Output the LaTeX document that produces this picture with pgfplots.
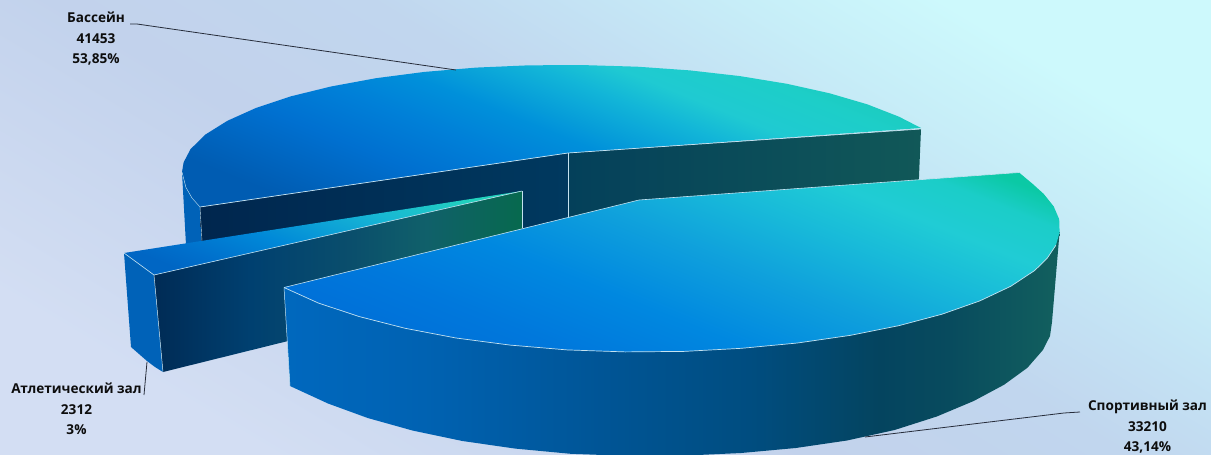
\documentclass[border=0pt]{standalone}
\usepackage{pgfplots}
\usepackage{fontspec}
\setmainfont{Open Sans}
\pgfplotsset{compat=1.18}

\definecolor{edge}{HTML}{C4E2F0}
\definecolor{leader}{HTML}{262C3A}

% background
\definecolor{g0}{HTML}{D3DEF3}\definecolor{g1}{HTML}{C2D2EC}\definecolor{g2}{HTML}{C1D6EE}
\definecolor{g3}{HTML}{C3E0F3}\definecolor{g4}{HTML}{C7EEF8}\definecolor{g5}{HTML}{CDF9FC}
\pgfdeclarehorizontalshading{bgshade}{100bp}{
  color(0bp)=(g0);color(25bp)=(g0);color(44bp)=(g1);color(55bp)=(g2);
  color(60.75bp)=(g3);color(68bp)=(g4);color(75bp)=(g5);color(100bp)=(g5)}

\definecolor{a0}{HTML}{005CB2}\definecolor{a1}{HTML}{0060B8}\definecolor{a2}{HTML}{0070D0}
\definecolor{a3}{HTML}{0080D8}\definecolor{a4}{HTML}{0090DA}\definecolor{a5}{HTML}{12B5D8}
\definecolor{a6}{HTML}{1FCAD2}\definecolor{a7}{HTML}{1DCEC8}\definecolor{a8}{HTML}{18C8B0}
\pgfdeclarehorizontalshading{basstop}{100bp}{
  color(0bp)=(a0);color(25bp)=(a0);color(27.5bp)=(a1);color(36.8bp)=(a2);color(44.4bp)=(a3);
  color(50.6bp)=(a4);color(59.3bp)=(a5);color(64bp)=(a6);color(71bp)=(a7);color(80bp)=(a8);color(100bp)=(a8)}

\definecolor{s0}{HTML}{0070D8}\definecolor{s1}{HTML}{0078DC}\definecolor{s2}{HTML}{0088E0}
\definecolor{s3}{HTML}{0FA0DC}\definecolor{s4}{HTML}{18BAD9}\definecolor{s5}{HTML}{20CCD5}
\definecolor{s6}{HTML}{1BCDC8}\definecolor{s7}{HTML}{0BC9A5}
\pgfdeclarehorizontalshading{sporttop}{100bp}{
  color(0bp)=(s0);color(25bp)=(s0);color(32.8bp)=(s1);color(42.7bp)=(s2);color(53bp)=(s3);
  color(62bp)=(s4);color(69bp)=(s5);color(75bp)=(s6);color(79bp)=(s7);color(100bp)=(s7)}

\definecolor{t0}{HTML}{0066C4}\definecolor{t1}{HTML}{0070CC}\definecolor{t2}{HTML}{0088D8}
\definecolor{t3}{HTML}{18B8D4}\definecolor{t4}{HTML}{22D2BC}
\pgfdeclarehorizontalshading{atltop}{100bp}{
  color(0bp)=(t0);color(25bp)=(t0);color(31.2bp)=(t1);color(42.5bp)=(t2);color(61bp)=(t3);
  color(75bp)=(t4);color(100bp)=(t4)}

\definecolor{w0}{HTML}{0068BE}\definecolor{w1}{HTML}{0062B2}\definecolor{w2}{HTML}{005596}
\definecolor{w3}{HTML}{004D80}\definecolor{w4}{HTML}{04445F}\definecolor{w5}{HTML}{084B5E}
\definecolor{w6}{HTML}{115E5E}
\pgfdeclarehorizontalshading{sportside}{100bp}{
  color(0bp)=(w0);color(25bp)=(w0);color(34bp)=(w1);color(45.4bp)=(w2);color(55bp)=(w3);
  color(63.4bp)=(w4);color(67.9bp)=(w5);color(74.4bp)=(w6);color(100bp)=(w6)}

\definecolor{v0}{HTML}{002B55}\definecolor{v1}{HTML}{004070}\definecolor{v2}{HTML}{0A4E6C}
\definecolor{v3}{HTML}{10606A}\definecolor{v4}{HTML}{07694E}
\pgfdeclarehorizontalshading{atlwall}{100bp}{
  color(0bp)=(v0);color(25bp)=(v0);color(38bp)=(v1);color(51.6bp)=(v2);color(62bp)=(v3);
  color(75bp)=(v4);color(100bp)=(v4)}

\definecolor{b0}{HTML}{00264E}\definecolor{b1}{HTML}{00395F}
\definecolor{b2}{HTML}{04405A}\definecolor{b3}{HTML}{115858}
\definecolor{solidblue}{HTML}{0062B8}

\begin{document}
\begin{tikzpicture}
\useasboundingbox (0,0) rectangle (1211pt,455pt);
\begin{axis}[
    scale only axis,
    width=1211pt, height=455pt,
    xmin=0, xmax=1211, ymin=0, ymax=455,
    y dir=reverse,
    hide axis,
    no markers,
]
% background
\addplot[shade, shading=bgshade, shading angle=59, draw=none] coordinates {(0,0) (1211,0) (1211,455) (0,455)};

% Бассейн
\addplot[fill=solidblue, draw=none] coordinates {(182,172) (186,187) (201,206) (202,245) (186,245)};
\addplot[left color=b0, right color=b1, draw=none] coordinates {(200,207) (568,153) (568,260) (202,260)};
\addplot[left color=b2, right color=b3, draw=none] coordinates {(568,153) (921,129) (918,200) (568,240)};
\addplot[shade, shading=basstop, shading angle=68, draw=none] coordinates {
  (921,128) (899,116.7) (867.2,104.3) (829.6,93.3) (786.9,83.8) (740,76.1) (689.9,70.4) (637.5,66.7)
  (583.6,65.1) (529.3,65.3) (476.1,67.6) (424.5,71.9) (376,78.2) (331,86.5) (291,96.3) (256.1,107.9)
  (227.4,120.8) (205.3,134.6) (190.5,149.2) (183.6,162.4) (182,172) (185.9,187.3) (192,198) (200,207)
  (568,153)};
\addplot[edge, line width=0.7pt] coordinates {(200,207) (568,153) (921,129)};
\addplot[edge, line width=0.4pt] coordinates {(568,153) (568,218)};
\addplot[edge, line width=0.4pt] coordinates {(200,207) (202,241)};
\addplot[edge, line width=0.4pt] coordinates {(182,172) (185.9,187.3) (192,198) (200,207)};

% Атлетический зал
\addplot[fill=solidblue, draw=none] coordinates {
  (124,253) (154,275) (163,372) (155,367) (147,361) (139,354) (131,347)};
\addplot[shade, shading=atlwall, draw=none] coordinates {(154,275) (522,191) (522,283) (163,372)};
\addplot[shade, shading=atltop, shading angle=68, draw=none] coordinates {(124,253) (522,191) (154,275)};
\addplot[edge, line width=0.6pt] coordinates {(124,253) (154,275) (522,191)};
\addplot[edge, line width=0.5pt] coordinates {(154,275) (163,372)};
\addplot[edge, line width=0.4pt] coordinates {(522,191) (522,228)};

% Спортивный зал
\addplot[shade, shading=sportside, draw=none] coordinates {
  (284,287) (290,386) (328,403.5) (367.7,418) (412.8,430.6) (462.4,441) (515.3,448.6) (570.7,453.8)
  (627.7,455.9) (685,455.6) (741.2,453) (795.8,448) (847,440.5) (894.6,430) (936.8,416.5) (973.7,401)
  (1004,384.8) (1027.4,367.8) (1043,349.9) (1050,336) (1052,322) (1059.6,232) (640,250)};
\addplot[shade, shading=sporttop, shading angle=68, draw=none] coordinates {
  (284,287.5) (318.3,303) (359,316.5) (405.2,328.3) (456,338) (510.2,345.1) (567,349.9) (625.3,351.9)
  (684,351.4) (741.6,348.3) (797.5,343) (850,335.4) (898.7,325.7) (942,314.2) (979.8,300.9) (1010.9,286.2)
  (1034.8,270.4) (1047.4,258) (1055.9,245.2) (1059.6,232.3) (1059.2,219.3) (1053.7,206.4) (1043.6,193.8)
  (1032.3,183.6) (1019,172.5) (639,200)};
\addplot[edge, line width=0.7pt] coordinates {
  (284,287.5) (318.3,303) (359,316.5) (405.2,328.3) (456,338) (510.2,345.1) (567,349.9) (625.3,351.9)
  (684,351.4) (741.6,348.3) (797.5,343) (850,335.4) (898.7,325.7) (942,314.2) (979.8,300.9) (1010.9,286.2)
  (1034.8,270.4) (1047.4,258) (1055.9,245.2)};
\addplot[edge, line width=0.6pt] coordinates {(284,287.5) (639,200) (1019,172.5)};
\addplot[edge, line width=0.5pt] coordinates {(284,287.5) (290,386)};

% leaders
\addplot[leader, line width=0.8pt] coordinates {(130,24) (137,24) (456,70)};
\addplot[leader, line width=0.8pt] coordinates {(1080,412) (1064,413) (865,437)};
\addplot[leader, line width=0.8pt] coordinates {(147,362) (144,395)};

\node[align=center, text=black!95, font=\bfseries\fontsize{13.6}{20.5}\selectfont] at (axis cs:96,39) {Бассейн\\41453\\53,85\%};
\node[align=center, text=black!95, font=\bfseries\fontsize{13.6}{20.5}\selectfont] at (axis cs:76.5,409) {Атлетический зал\\2312\\3\%};
\node[align=center, text=black!95, font=\bfseries\fontsize{13.6}{20.5}\selectfont] at (axis cs:1147.5,427) {Спортивный зал\\33210\\43,14\%};
\end{axis}
\end{tikzpicture}
\end{document}
